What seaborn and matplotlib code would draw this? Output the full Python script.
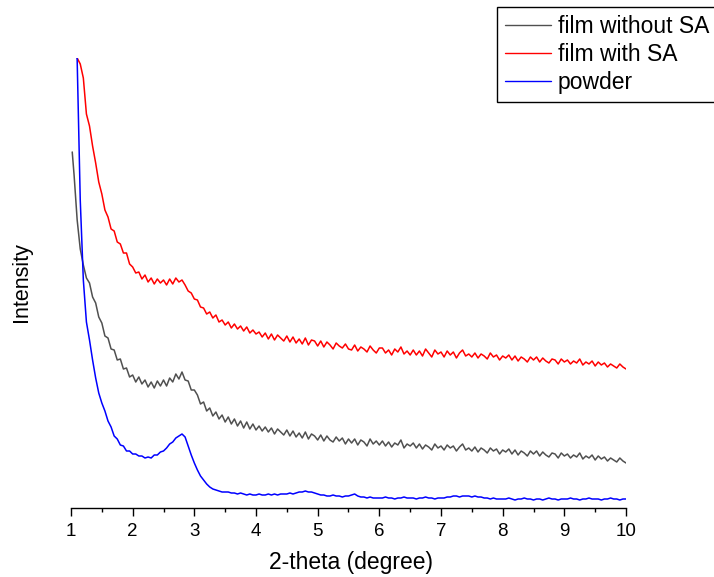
import numpy as np
import pandas as pd
import matplotlib
matplotlib.use("Agg")
import matplotlib.pyplot as plt
from matplotlib.ticker import MultipleLocator
from matplotlib.lines import Line2D
import seaborn as sns

sns.set_style("white")
plt.rcParams["font.family"] = ["Liberation Sans", "DejaVu Sans"]
plt.rcParams["text.color"] = "black"
plt.rcParams["xtick.color"] = "black"
plt.rcParams["xtick.labelcolor"] = "black"

# 2-theta grid (degree): 1.05 ... 10.00 step 0.05
theta = np.round(np.arange(1.05, 10.0001, 0.05), 2)

series_names = ["film without SA", "film with SA", "powder"]
series_colors = ["#505050", "#ff0000", "#0000ff"]

# Intensity (arbitrary units)
film_without_first = (1.02, 356)
film_without_SA = [
    333, 288, 259, 243, 230, 225, 211, 205, 191, 185,
    172, 170, 159, 158, 148, 149, 139, 140, 131, 133,
    126, 131, 124, 128, 121, 126, 120, 127, 122, 128,
    122, 130, 126, 134, 129, 136, 128, 127, 118, 118,
    113, 104, 106, 97, 100, 92, 96, 89, 93, 86,
    91, 84, 89, 82, 87, 80, 86, 79, 84, 78,
    82, 77, 81, 76, 80, 74, 79, 76, 73, 78,
    72, 77, 71, 75, 70, 76, 69, 74, 72, 68,
    73, 67, 72, 68, 66, 71, 67, 70, 64, 69,
    65, 69, 63, 68, 66, 62, 69, 64, 67, 63,
    67, 62, 66, 61, 65, 63, 68, 60, 64, 62,
    65, 60, 64, 59, 63, 61, 58, 64, 60, 62,
    58, 63, 60, 62, 57, 61, 64, 58, 60, 57,
    61, 56, 60, 58, 55, 60, 57, 59, 54, 58,
    56, 59, 54, 58, 53, 57, 55, 52, 57, 54,
    57, 52, 56, 53, 51, 55, 54, 50, 55, 52,
    54, 50, 53, 51, 55, 49, 52, 50, 53, 48,
    52, 49, 51, 47, 50, 48, 46, 50, 47, 45,
]
film_with_SA = [
    470, 450, 444, 430, 394, 382, 362, 345, 326, 314,
    298, 291, 279, 277, 266, 264, 255, 255, 244, 241,
    235, 236, 229, 233, 226, 230, 224, 229, 225, 228,
    223, 229, 224, 230, 226, 228, 223, 217, 215, 209,
    208, 201, 200, 194, 196, 190, 193, 186, 188, 183,
    186, 180, 184, 179, 182, 177, 181, 175, 178, 174,
    176, 171, 175, 169, 174, 168, 173, 170, 167, 172,
    166, 171, 165, 169, 164, 170, 163, 168, 167, 162,
    167, 161, 166, 163, 159, 165, 162, 160, 164, 159,
    158, 163, 157, 161, 159, 156, 162, 158, 155, 160,
    160, 155, 158, 153, 159, 156, 161, 154, 157, 153,
    158, 153, 157, 152, 159, 155, 151, 158, 154, 156,
    151, 157, 153, 156, 150, 155, 158, 152, 154, 151,
    155, 150, 154, 152, 149, 155, 151, 153, 148, 152,
    150, 153, 148, 152, 147, 151, 149, 146, 151, 148,
    151, 146, 150, 147, 145, 149, 148, 144, 149, 146,
    148, 144, 147, 145, 149, 143, 146, 144, 147, 142,
    146, 143, 145, 141, 144, 142, 140, 144, 141, 139,
]
powder = [
    520, 448, 308, 228, 186, 168, 148, 130, 115, 105,
    97, 87, 81, 72, 69, 63, 62, 57, 57, 54,
    54, 52, 52, 50, 51, 50, 53, 53, 56, 57,
    60, 64, 66, 70, 72, 74, 71, 62, 53, 45,
    38, 32, 28, 24, 21, 19, 18, 17, 16, 16,
    16, 15, 15, 14, 15, 14, 13, 14, 13, 13,
    14, 13, 13, 14, 13, 14, 13, 14, 14, 14,
    15, 14, 15, 16, 16, 17, 16, 16, 15, 14,
    13, 13, 12, 12, 13, 12, 12, 11, 12, 12,
    13, 14, 12, 11, 11, 10, 11, 10, 10, 10,
    10, 11, 10, 10, 9, 10, 10, 11, 10, 10,
    10, 9, 10, 10, 11, 10, 10, 9, 10, 10,
    10, 11, 11, 12, 12, 11, 12, 12, 12, 11,
    12, 11, 11, 10, 10, 9, 10, 9, 9, 9,
    9, 10, 9, 8, 9, 9, 10, 9, 9, 8,
    9, 9, 8, 9, 10, 9, 9, 8, 9, 9,
    9, 10, 9, 9, 8, 9, 9, 10, 9, 9,
    9, 8, 9, 9, 10, 9, 9, 8, 9, 9,
]

x_ticks = [1, 2, 3, 4, 5, 6, 7, 8, 9, 10]
tick_labels = [str(t) for t in x_ticks]
x_label = "2-theta (degree)"
y_label = "Intensity"

# long-form table
frames = []
x_black = np.concatenate([[film_without_first[0]], theta])
y_black = np.concatenate([[film_without_first[1]], film_without_SA])
frames.append(pd.DataFrame({"theta": x_black, "I": y_black, "series": series_names[0]}))
frames.append(pd.DataFrame({"theta": theta, "I": film_with_SA, "series": series_names[1]}))
frames.append(pd.DataFrame({"theta": theta, "I": powder, "series": series_names[2]}))
df = pd.concat(frames, ignore_index=True)

W, H, DPI = 714, 577, 100
fig = plt.figure(figsize=(W / DPI, H / DPI), dpi=DPI)
ax_l, ax_r, ax_t, ax_b = 71, 626, 58, 508
ax = fig.add_axes([ax_l / W, 1 - ax_b / H, (ax_r - ax_l) / W, (ax_b - ax_t) / H])

sns.lineplot(data=df, x="theta", y="I", hue="series", hue_order=series_names,
             palette=dict(zip(series_names, series_colors)), sort=False,
             estimator=None, linewidth=1.1, ax=ax, legend=False)

ax.set_xlim(1, 10)
ax.set_ylim(0, 450)
for s in ["left", "top", "right"]:
    ax.spines[s].set_visible(False)
ax.spines["bottom"].set_color("black")
ax.spines["bottom"].set_linewidth(1.0)
ax.set_yticks([])
ax.set_xticks(x_ticks)
ax.set_xticklabels(tick_labels)
ax.xaxis.set_minor_locator(MultipleLocator(0.5))
ax.tick_params(axis="x", which="major", direction="out", length=6, width=1,
               color="black", labelcolor="black", labelsize=13.5, pad=5,
               bottom=True)
ax.tick_params(axis="x", which="minor", direction="out", length=3, width=1,
               color="black", bottom=True)
ax.set_xlabel("")
ax.set_ylabel("")

fig.text(351 / W, 1 - 562 / H, x_label, ha="center", va="center",
         fontsize=16.5, color="black")
fig.text(22 / W, 1 - 282 / H, y_label, ha="center", va="center",
         rotation=90, fontsize=15.5, color="black")

handles = [Line2D([], [], color=c, linewidth=1.0) for c in series_colors]
leg = fig.legend(handles, series_names, loc="upper left",
                 bbox_to_anchor=(497 / W, 1 - 7 / H), borderaxespad=0.0,
                 fontsize=16.5, frameon=True, fancybox=False, framealpha=1,
                 edgecolor="black", handlelength=2.0, handletextpad=0.3,
                 labelspacing=0.22, borderpad=0.35)
leg.get_frame().set_linewidth(1.0)
for t in leg.get_texts():
    t.set_color("black")

fig.savefig("out.png", dpi=DPI)
